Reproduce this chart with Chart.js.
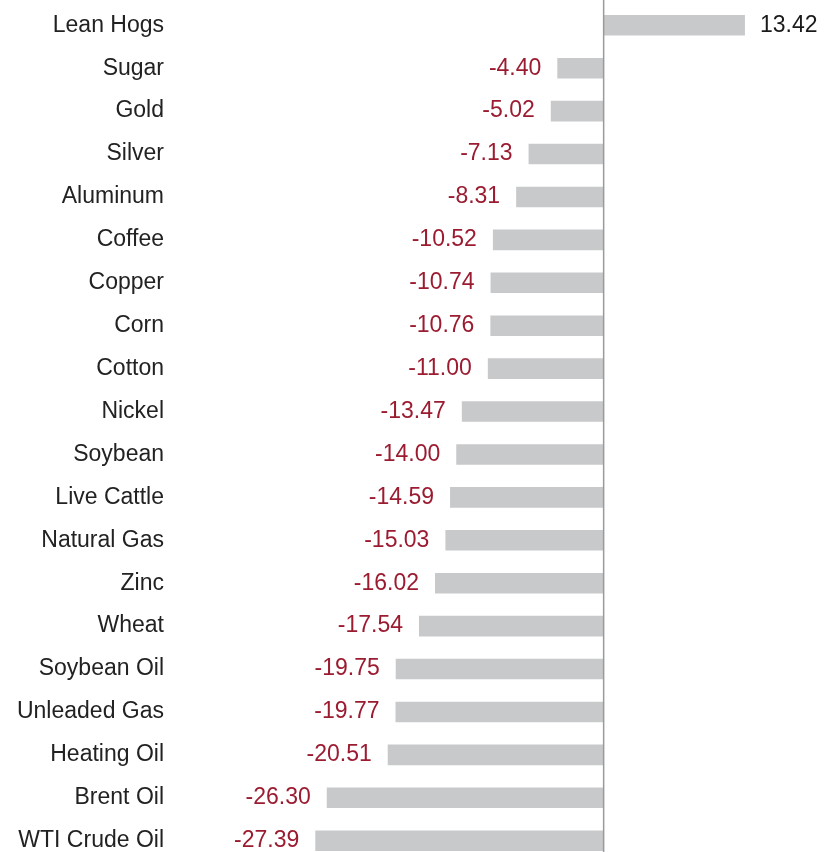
<!DOCTYPE html>
<html>
<head>
<meta charset="utf-8">
<script src="https://cdn.jsdelivr.net/npm/chart.js@4/dist/chart.umd.min.js"></script>
<style>
  html, body { margin: 0; padding: 0; background: #fff; overflow: hidden; }
  #wrap { position: absolute; left: 0; top: -18px; width: 830px; height: 902px; }
</style>
</head>
<body>
<div id="wrap"><canvas id="chart"></canvas></div>
<script>
const commodities = [
  'Lean Hogs', 'Sugar', 'Gold', 'Silver', 'Aluminum', 'Coffee', 'Copper', 'Corn',
  'Cotton', 'Nickel', 'Soybean', 'Live Cattle', 'Natural Gas', 'Zinc', 'Wheat',
  'Soybean Oil', 'Unleaded Gas', 'Heating Oil', 'Brent Oil', 'WTI Crude Oil'
];
const returns = [
  13.42, -4.40, -5.02, -7.13, -8.31, -10.52, -10.74, -10.76,
  -11.00, -13.47, -14.00, -14.59, -15.03, -16.02, -17.54,
  -19.75, -19.77, -20.51, -26.30, -27.39
];

const fontFamily = '"Liberation Sans", Arial, sans-serif';
const fontSize = 23;

// zero line over the full height + value labels at the bar ends
const valueLabels = {
  id: 'valueLabels',
  afterDatasetsDraw(chart) {
    const ctx = chart.ctx;
    const meta = chart.getDatasetMeta(0);
    const x0 = chart.scales.x.getPixelForValue(0);
    ctx.save();
    ctx.strokeStyle = '#9a9a9a';
    ctx.lineWidth = 1.5;
    ctx.beginPath();
    ctx.moveTo(x0, 0);
    ctx.lineTo(x0, chart.height);
    ctx.stroke();

    ctx.font = fontSize + 'px ' + fontFamily;
    ctx.textBaseline = 'middle';
    meta.data.forEach((bar, i) => {
      const v = returns[i];
      if (v < 0) {
        ctx.fillStyle = '#9b1c31';
        ctx.textAlign = 'right';
        ctx.fillText(v.toFixed(2), bar.x - 16, bar.y);
      } else {
        ctx.fillStyle = '#1a1a1a';
        ctx.textAlign = 'left';
        ctx.fillText(v.toFixed(2), bar.x + 15, bar.y);
      }
    });
    ctx.restore();
  }
};

new Chart(document.getElementById('chart'), {
  type: 'bar',
  data: {
    labels: commodities,
    datasets: [{
      data: returns,
      backgroundColor: '#c8c9cb',
      borderWidth: 0,
      categoryPercentage: 0.48,
      barPercentage: 1.0
    }]
  },
  options: {
    indexAxis: 'y',
    responsive: true,
    maintainAspectRatio: false,
    animation: false,
    layout: { padding: 0 },
    scales: {
      x: {
        min: -41,
        max: 21.5,
        border: { display: false },
        ticks: { display: false },
        grid: { display: false }
      },
      y: {
        border: { display: false },
        grid: { display: false, drawTicks: false },
        afterFit: (scale) => { scale.width = 172; },
        ticks: {
          padding: 8,
          color: '#222222',
          font: { family: fontFamily, size: fontSize }
        }
      }
    },
    plugins: {
      legend: { display: false },
      tooltip: { enabled: false }
    }
  },
  plugins: [valueLabels]
});
</script>
</body>
</html>
